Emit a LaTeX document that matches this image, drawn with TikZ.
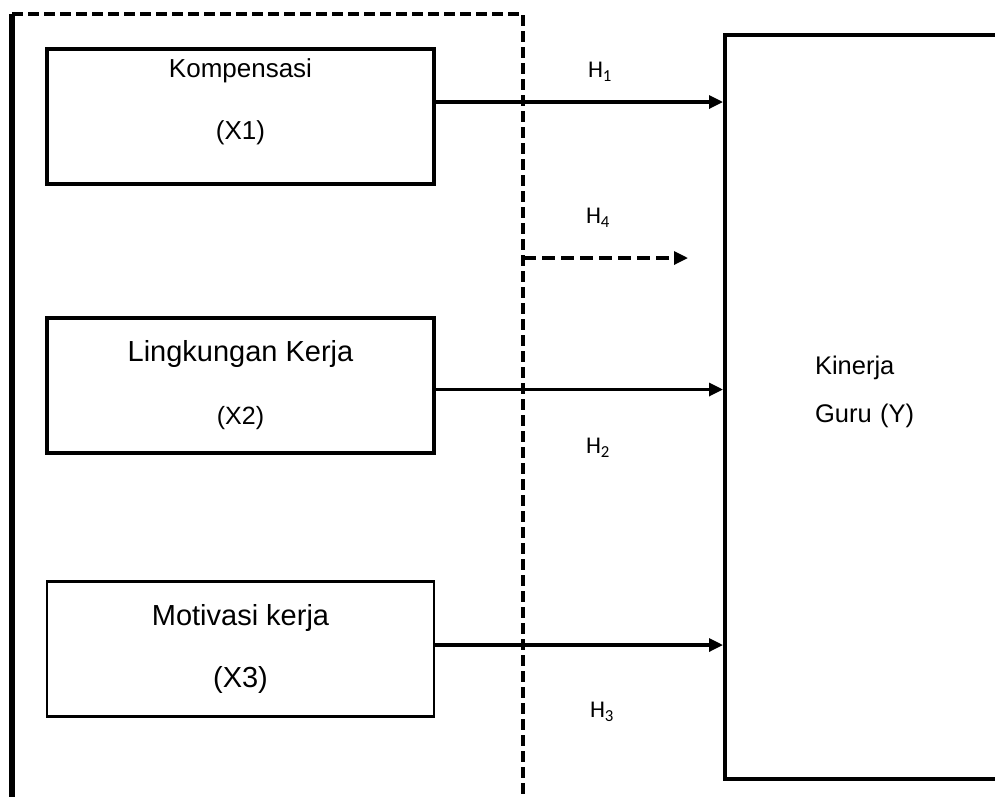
\documentclass[tikz,border=0pt]{standalone}
\usepackage{fontspec}
\setmainfont{Liberation Sans}
\newfontfamily\hfont{Carlito}
\usetikzlibrary{positioning, arrows.meta}

\tikzstyle{Arrow} = [
    line width=3.2pt,
    -{Triangle[length=14pt, width=13pt]}
]

\begin{document}
\begin{tikzpicture}[
x=1pt, y=-1pt,
varbox/.style={
    draw,
    rectangle,
    line width=4pt,
    minimum width=387pt,
    minimum height=135pt,
    inner sep=0pt,
    align=center
    },
hlabel/.style={font=\hfont\fontsize{24}{28}\selectfont},
frame/.style={line width=4.5pt, dash pattern=on 11pt off 5pt}
]
\useasboundingbox (0,0) rectangle (995,796);

% outer frame
\coordinate (frametl) at (12,14);
\coordinate (framebl) at (12,800);
\coordinate (frametr) at (523,14);
\coordinate (framebr) at (523,800);
\draw[line width=5.5pt] (frametl) -- (framebl);
\draw[frame] (frametl) -- (frametr) -- (framebr);

\node [varbox, font=\fontsize{26}{62}\selectfont, text depth=33pt] (kompensasi) at (240.5,116) {
    Kompensasi\\(X1)
};
\node [varbox, font=\fontsize{29}{63}\selectfont] (lingkungan) at (240.5,385.5) {
    Lingkungan Kerja\\{\fontsize{25}{25}\selectfont (X2)}
};
\node [varbox, line width=2.8pt, font=\fontsize{29}{62}\selectfont] (motivasi) at (240.5,649) {
    Motivasi kerja\\(X3)
};
\node [draw, line width=4pt, minimum width=300pt, minimum height=744pt, inner sep=0pt,
    text width=120pt, align=left, font=\fontsize{25.5}{48}\selectfont, text depth=84pt] (kinerja) at (875,407) {
    Kinerja\\Guru (Y)
};

\draw[Arrow] ([yshift=14pt]kompensasi.east) -- ([yshift=14pt]kompensasi.east -| kinerja.west);
\draw[Arrow] ([yshift=-4pt]lingkungan.east) -- ([yshift=-4pt]lingkungan.east -| kinerja.west);
\draw[Arrow] ([yshift=4pt]motivasi.east) -- ([yshift=4pt]motivasi.east -| kinerja.west);

\coordinate (split) at (523,258);
\coordinate (h4end) at (688,258);
\draw[Arrow, dash pattern=on 13pt off 6pt] (split) -- (h4end);

\node [hlabel] (h1) at (600,72) {H\textsubscript{1}};
\node [hlabel] (h4) at (598,218) {H\textsubscript{4}};
\node [hlabel] (h2) at (598,448) {H\textsubscript{2}};
\node [hlabel] (h3) at (602,712) {H\textsubscript{3}};

\end{tikzpicture}
\end{document}
